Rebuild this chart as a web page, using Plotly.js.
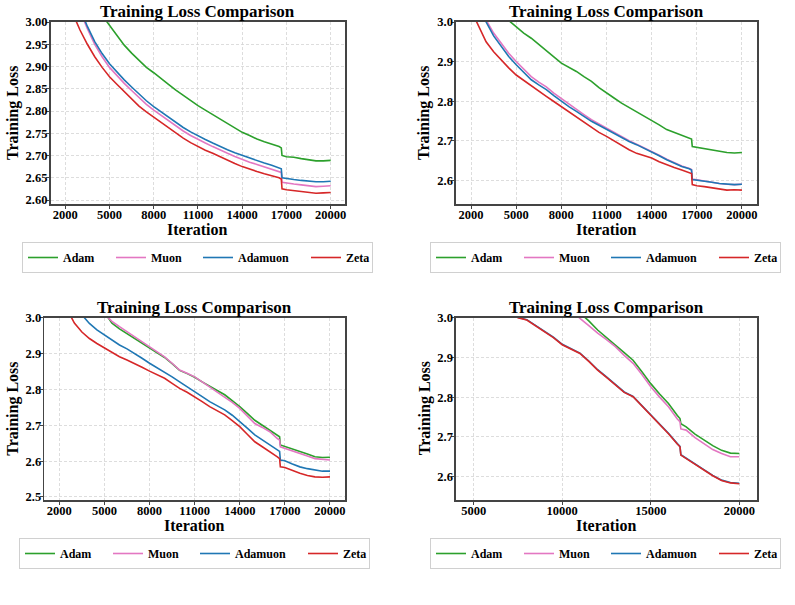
<!DOCTYPE html>
<html>
<head>
<meta charset="utf-8">
<script src="https://cdn.plot.ly/plotly-3.0.1.min.js"></script>
<style>html,body{margin:0;padding:0;background:#fff}#chart{width:795px;height:605px}</style>
</head>
<body>
<div id="chart"></div>
<script>
// ---------- DATA ----------
const iterations = [2000,2500,3000,3500,4000,4500,5000,5500,6000,6500,7000,7500,8000,8500,9000,9500,10000,10500,11000,11500,12000,12500,13000,13500,14000,14500,15000,15500,16000,16500,16650,16700,17000,17500,18000,18500,19000,19500,20000];
const seriesNames = ['Adam','Muon','Adamuon','Zeta'];
const chartTitle = 'Training Loss Comparison';
const xLabel = 'Iteration';
const yLabel = 'Training Loss';

// Panel 1 (top-left)
const adam1 = [null,null,null,null,null,3.015,2.992,2.970,2.948,2.930,2.914,2.898,2.886,2.872,2.860,2.847,2.835,2.823,2.812,2.802,2.792,2.782,2.773,2.763,2.752,2.745,2.737,2.731,2.726,2.720,2.717,2.700,2.697,2.696,2.693,2.690,2.688,2.688,2.689];
const muon1 = [null,null,3.025,2.985,2.950,2.922,2.898,2.879,2.862,2.846,2.830,2.815,2.802,2.790,2.777,2.766,2.755,2.745,2.736,2.728,2.720,2.712,2.705,2.698,2.691,2.685,2.680,2.675,2.670,2.665,2.662,2.640,2.638,2.636,2.634,2.632,2.630,2.631,2.632];
const adamuon1 = [null,null,3.030,2.990,2.956,2.929,2.906,2.887,2.870,2.854,2.838,2.823,2.810,2.798,2.785,2.774,2.763,2.753,2.744,2.736,2.728,2.720,2.713,2.706,2.700,2.694,2.688,2.683,2.678,2.673,2.670,2.650,2.648,2.646,2.644,2.642,2.641,2.641,2.642];
const zeta1 = [null,3.020,2.982,2.950,2.922,2.898,2.877,2.860,2.843,2.826,2.811,2.798,2.786,2.773,2.761,2.750,2.739,2.729,2.720,2.712,2.705,2.697,2.690,2.682,2.675,2.669,2.664,2.659,2.655,2.650,2.647,2.625,2.623,2.621,2.619,2.617,2.615,2.616,2.617];

// Panel 2 (top-right)
const adam2 = [null,null,null,null,null,3.004,2.988,2.972,2.959,2.944,2.929,2.912,2.896,2.886,2.875,2.862,2.850,2.834,2.820,2.808,2.795,2.784,2.774,2.763,2.753,2.740,2.728,2.721,2.715,2.708,2.704,2.685,2.683,2.680,2.677,2.673,2.670,2.669,2.670];
const muon2 = [null,3.045,3.005,2.972,2.945,2.921,2.900,2.880,2.862,2.848,2.836,2.820,2.806,2.792,2.779,2.766,2.753,2.742,2.732,2.721,2.710,2.700,2.691,2.682,2.674,2.663,2.653,2.644,2.636,2.630,2.627,2.603,2.601,2.598,2.595,2.592,2.590,2.589,2.590];
const adamuon2 = [null,3.040,3.000,2.965,2.938,2.913,2.892,2.872,2.854,2.841,2.829,2.814,2.799,2.786,2.774,2.761,2.749,2.739,2.729,2.718,2.707,2.698,2.690,2.681,2.673,2.662,2.652,2.643,2.635,2.629,2.626,2.602,2.600,2.597,2.595,2.592,2.590,2.589,2.590];
const zeta2 = [3.030,2.990,2.950,2.925,2.904,2.884,2.866,2.852,2.839,2.825,2.812,2.799,2.786,2.773,2.760,2.746,2.732,2.721,2.711,2.699,2.687,2.677,2.668,2.662,2.656,2.647,2.639,2.632,2.626,2.620,2.617,2.589,2.586,2.584,2.581,2.578,2.575,2.576,2.575];

// Panel 3 (bottom-left)
const adam3 = [null,null,null,null,null,null,3.015,2.985,2.969,2.956,2.942,2.929,2.915,2.902,2.889,2.872,2.853,2.844,2.834,2.821,2.808,2.797,2.785,2.769,2.752,2.733,2.714,2.700,2.687,2.672,2.668,2.645,2.641,2.634,2.628,2.620,2.612,2.610,2.611];
const muon3 = [null,null,null,null,null,null,3.010,2.990,2.975,2.961,2.947,2.933,2.919,2.905,2.891,2.873,2.854,2.845,2.835,2.821,2.807,2.794,2.780,2.764,2.747,2.726,2.705,2.694,2.682,2.663,2.659,2.640,2.636,2.629,2.622,2.614,2.607,2.604,2.603];
const adamuon3 = [null,null,null,3.008,2.984,2.966,2.952,2.937,2.924,2.913,2.901,2.887,2.873,2.861,2.849,2.835,2.821,2.808,2.794,2.780,2.766,2.755,2.743,2.728,2.711,2.692,2.673,2.659,2.645,2.631,2.627,2.603,2.601,2.592,2.584,2.579,2.575,2.572,2.572];
const zeta3 = [null,3.025,2.985,2.960,2.942,2.928,2.915,2.903,2.891,2.882,2.873,2.862,2.851,2.841,2.831,2.817,2.803,2.792,2.780,2.766,2.752,2.741,2.729,2.713,2.696,2.675,2.654,2.640,2.627,2.612,2.607,2.584,2.582,2.573,2.566,2.560,2.556,2.555,2.556];

// Panel 4 (bottom-right)
const adam4 = [null,null,null,null,null,null,null,null,null,null,null,null,null,null,null,null,null,null,3.012,2.992,2.969,2.951,2.931,2.912,2.893,2.864,2.834,2.808,2.784,2.754,2.746,2.733,2.725,2.707,2.692,2.678,2.666,2.659,2.658];
const muon4 = [null,null,null,null,null,null,null,null,null,null,null,null,null,null,null,null,null,3.020,2.998,2.980,2.961,2.945,2.927,2.905,2.885,2.857,2.826,2.800,2.776,2.745,2.738,2.720,2.717,2.698,2.683,2.668,2.658,2.650,2.650];
const adamuon4 = [null,null,null,null,null,null,null,null,null,null,3.022,3.001,2.995,2.981,2.966,2.951,2.933,2.923,2.911,2.891,2.869,2.851,2.831,2.813,2.802,2.779,2.756,2.734,2.709,2.683,2.676,2.655,2.646,2.631,2.618,2.603,2.591,2.585,2.583];
const zeta4 = [null,null,null,null,null,null,null,null,null,null,3.020,3.000,2.994,2.980,2.965,2.950,2.932,2.922,2.910,2.890,2.868,2.850,2.830,2.812,2.801,2.778,2.755,2.733,2.708,2.682,2.675,2.654,2.645,2.630,2.617,2.602,2.590,2.584,2.582];

// ---------- STYLE / LAYOUT ----------
const W = 795, H = 605;
const colors = ['#2ca02c', '#e377c2', '#1f77b4', '#d62728'];
const legendWidths = [43, 42, 63, 21];
const FONT = 'Liberation Serif, Times New Roman, serif';
const px2x = p => p / W;
const px2y = p => 1 - p / H;

const panels = [
  {data:[adam1,muon1,adamuon1,zeta1], box:[50.5,345,22,204], yr:[2.591,3.0], ydt:0.05, yfmt:'.2f', xr:[1000,20970], x0:2000, xdt:3000, leg:[22,242], titleY:12, xtY:229, ytX:13},
  {data:[adam2,muon2,adamuon2,zeta2], box:[456,757,22,204], yr:[2.54,3.0], ydt:0.1, yfmt:'.1f', xr:[1000,21000], x0:2000, xdt:3000, leg:[430,242], titleY:12, xtY:229, ytX:424},
  {data:[adam3,muon3,adamuon3,zeta3], box:[44.3,345,317.7,500], yr:[2.4916,3.0], ydt:0.1, yfmt:'.1f', xr:[1000,21000], x0:2000, xdt:3000, leg:[19,538], titleY:308, xtY:525.5, ytX:13},
  {data:[adam4,muon4,adamuon4,zeta4], box:[456,757,317.7,500], yr:[2.541,3.0], ydt:0.1, yfmt:'.1f', xr:[4000,21000], x0:5000, xdt:5000, leg:[430,538], titleY:308, xtY:525.5, ytX:424.5}
];

const traces = [];
const layout = {
  width: W, height: H,
  margin: {l:0, r:0, t:0, b:0},
  paper_bgcolor: '#fff', plot_bgcolor: '#fff',
  font: {family: FONT, color: '#000'},
  annotations: []
};

const tickFont = {family: FONT, size: 12.5, weight: 'bold', color: '#000'};
const axisTitleFont = {family: FONT, size: 16, weight: 'bold', color: '#000'};

panels.forEach((p, i) => {
  const n = i + 1;
  const sfx = n === 1 ? '' : String(n);
  const common = {
    showline: true, linecolor: '#444', linewidth: 1.6, mirror: true,
    ticks: 'outside', ticklen: 3, tickwidth: 1, tickcolor: '#444',
    showgrid: true, gridcolor: '#d4d4d4', gridwidth: 0.8, griddash: '3px,2px',
    zeroline: false, tickfont: tickFont, automargin: false
  };
  layout['xaxis' + sfx] = Object.assign({}, common, {
    domain: [px2x(p.box[0]), px2x(p.box[1])],
    range: p.xr, anchor: 'y' + sfx, tickmode: 'linear', tick0: p.x0, dtick: p.xdt,
    tickformat: 'd', ticklabelstandoff: -5
  });
  layout['yaxis' + sfx] = Object.assign({}, common, {
    domain: [px2y(p.box[3]), px2y(p.box[2])],
    range: p.yr, anchor: 'x' + sfx, tickmode: 'linear', tick0: 2.5, dtick: p.ydt,
    tickformat: p.yfmt, ticklabelstandoff: -4
  });
  layout['legend' + sfx] = {
    orientation: 'h', x: px2x(p.leg[0]), y: px2y(p.leg[1]),
    xanchor: 'left', yanchor: 'top',
    bgcolor: '#fff', bordercolor: '#d0d0d0', borderwidth: 1,
    font: {family: FONT, size: 12, weight: 'bold', color: '#000'},
    traceorder: 'normal'
  };
  const cx = (p.box[0] + p.box[1]) / 2;
  const cy = (p.box[2] + p.box[3]) / 2;
  layout.annotations.push({
    text: chartTitle, xref: 'paper', yref: 'paper',
    x: px2x(cx), y: px2y(p.titleY), xanchor: 'center', yanchor: 'middle', showarrow: false,
    font: {family: FONT, size: 17, weight: 'bold', color: '#000'}
  });
  layout.annotations.push({
    text: xLabel, xref: 'paper', yref: 'paper',
    x: px2x(cx), y: px2y(p.xtY), xanchor: 'center', yanchor: 'middle', showarrow: false,
    font: axisTitleFont
  });
  layout.annotations.push({
    text: yLabel, xref: 'paper', yref: 'paper', textangle: -90,
    x: px2x(p.ytX), y: px2y(cy), xanchor: 'center', yanchor: 'middle', showarrow: false,
    font: axisTitleFont
  });
  p.data.forEach((vals, k) => {
    traces.push({
      type: 'scatter', mode: 'lines',
      x: iterations, y: vals,
      name: seriesNames[k],
      line: {color: colors[k], width: 1.6},
      xaxis: 'x' + sfx, yaxis: 'y' + sfx, legend: 'legend' + sfx,
      legendwidth: legendWidths[k],
      showlegend: true, connectgaps: false
    });
  });
});

Plotly.newPlot('chart', traces, layout, {displayModeBar: false, staticPlot: true});
</script>
</body>
</html>
